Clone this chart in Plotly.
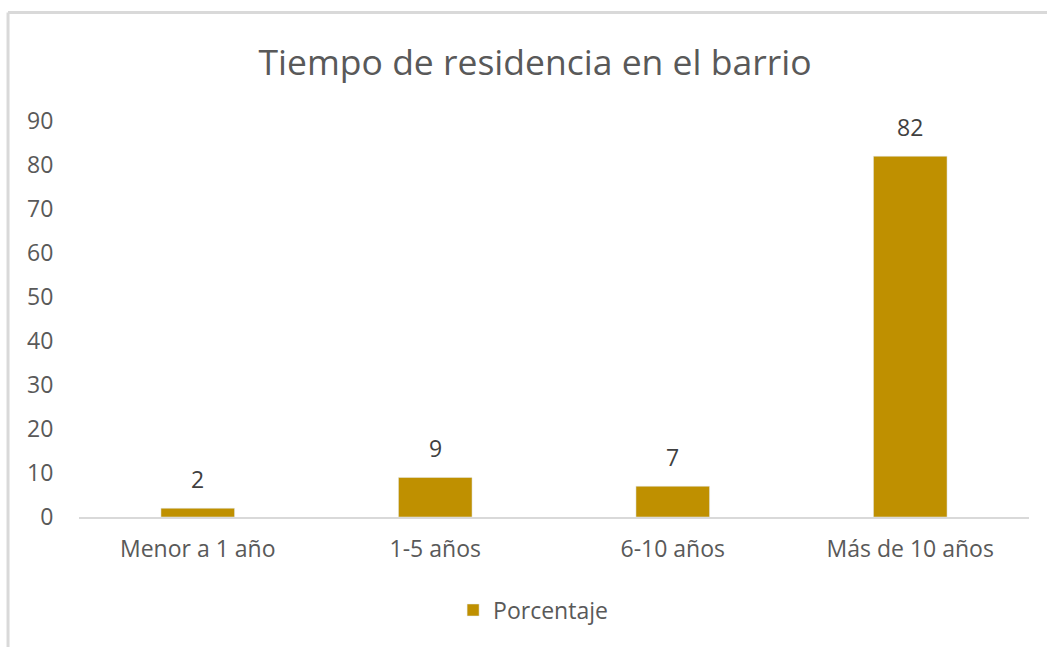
import plotly.graph_objects as go

# Data
categorias = ["Menor a 1 año", "1-5 años", "6-10 años", "Más de 10 años"]
porcentaje = [2, 9, 7, 82]
serie = "Porcentaje"
titulo = "Tiempo de residencia en el barrio"

FONT = "Open Sans, Noto Sans, sans-serif"
GRIS = "#595959"

fig = go.Figure()
fig.add_trace(go.Bar(
    x=categorias, y=porcentaje, name=serie,
    marker=dict(color="#BF9000"),
    width=0.31,
))

# value labels above each bar
for cat, val in zip(categorias, porcentaje):
    fig.add_annotation(x=cat, y=val, text=str(val), showarrow=False,
                       yanchor="bottom", yshift=11,
                       font=dict(size=23, color="#404040", family=FONT))

# chart border (top and left edges, as in the source image)
fig.add_shape(type="line", xref="paper", yref="paper",
              x0=-0.0747, x1=1.02, y0=1.274, y1=1.274,
              line=dict(color="#d9d9d9", width=3))
fig.add_shape(type="line", xref="paper", yref="paper",
              x0=-0.0747, x1=-0.0747, y0=1.274, y1=-0.33,
              line=dict(color="#d9d9d9", width=3))

fig.update_layout(
    width=1047, height=647,
    paper_bgcolor="white", plot_bgcolor="white",
    margin=dict(l=79, r=18, t=121, b=130),
    title=dict(text=titulo, x=0.511, xanchor="center", y=0.904, yanchor="middle",
               font=dict(size=35.5, color=GRIS, family=FONT)),
    font=dict(family=FONT, color=GRIS),
    showlegend=True,
    legend=dict(orientation="h", x=0.478, xanchor="center", y=-0.235, yanchor="middle",
                font=dict(size=23, color=GRIS, family=FONT)),
    bargap=0.69,
)
fig.update_xaxes(showline=True, linecolor="#d9d9d9", linewidth=2,
                 tickfont=dict(size=23, color=GRIS), showgrid=False,
                 ticks="outside", ticklen=10, tickcolor="rgba(0,0,0,0)")
fig.update_yaxes(range=[0, 90], dtick=10, showgrid=False, zeroline=False,
                 showline=False, tickfont=dict(size=23, color=GRIS),
                 ticks="outside", ticklen=20, tickcolor="rgba(0,0,0,0)")

fig.write_html("out.html", config={"displayModeBar": False},
               post_script="document.body.style.margin='0';")
